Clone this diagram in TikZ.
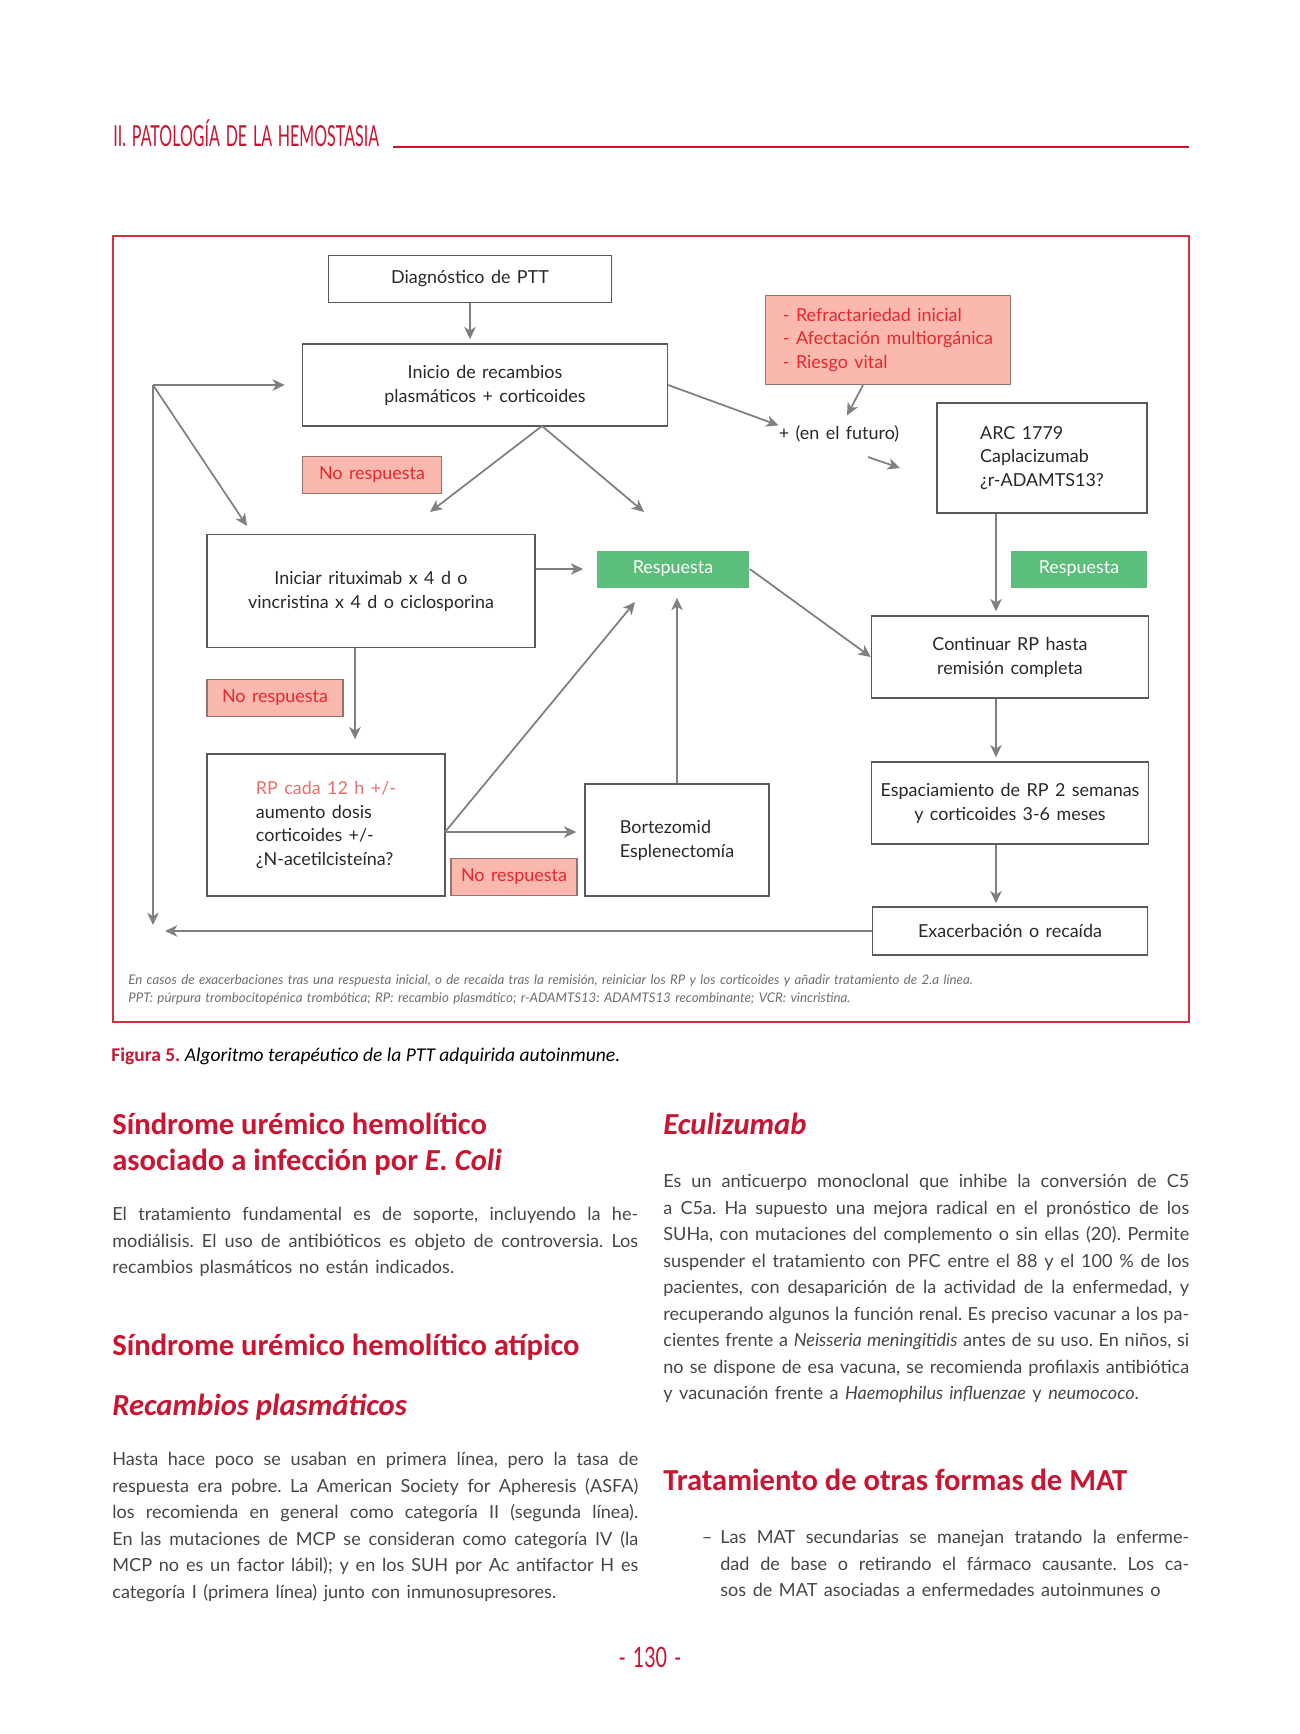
\documentclass[tikz,border=0pt]{standalone}
\usepackage{fontspec}
\setmainfont{Lato}[WordSpace=1.4]
\newfontfamily\headfont{Carlito}
\usepackage{graphicx}
\frenchspacing
\definecolor{ptcrimson}{RGB}{200,22,50}
\definecolor{ptframe}{RGB}{214,48,64}
\definecolor{ptpink}{RGB}{251,184,174}
\definecolor{ptpinkline}{RGB}{150,115,110}
\definecolor{ptred}{RGB}{232,38,46}
\definecolor{ptsalmon}{RGB}{232,112,106}
\definecolor{ptgreen}{RGB}{91,190,122}
\definecolor{ptgray}{RGB}{128,128,128}
\definecolor{ptline}{RGB}{90,90,90}
\definecolor{pttext}{RGB}{40,40,40}
\definecolor{ptbody}{RGB}{70,70,70}
\definecolor{ptnote}{RGB}{110,110,110}
\usetikzlibrary{arrows.meta,positioning,calc}
\newcommand{\diagfont}{\fontsize{10.2}{13.6}\selectfont}
\newcommand{\bodyline}[1]{\makebox[10.52cm][s]{#1}}
\newcommand{\itemline}[1]{\makebox[9.38cm][s]{#1}}
\begin{document}
\begin{tikzpicture}[x=0.02cm,y=-0.02cm,
  box/.style={draw=ptline,line width=0.8pt,inner sep=0pt,font=\diagfont,align=center,text=pttext},
  nores/.style={box,fill=ptpink,draw=ptpinkline,text=ptred,minimum width=2.72cm,minimum height=0.75cm},
  resp/.style={fill=ptgreen,text=white,font=\diagfont,inner sep=0pt,minimum height=0.74cm},
  arr/.style={-{Stealth[length=7pt,width=6.5pt,inset=2pt]},line width=1pt,ptgray},
  head/.style={font=\headfont\bfseries\fontsize{17.4}{21}\selectfont,text=ptcrimson,inner sep=0pt,anchor=base west},
  bodytext/.style={font=\fontsize{10.3}{15.1}\selectfont,text=ptbody,align=left,inner sep=0pt,anchor=north west}]
  \useasboundingbox (0,0) rectangle (1300,1734);
  % Running header
  \node[anchor=base west,inner sep=0pt,text=ptcrimson] (hdr) at (113,146) {\scalebox{0.554}[1]{\fontsize{16.5}{16.5}\selectfont II. PATOLOGÍA DE LA HEMOSTASIA}};
  \draw[ptcrimson,line width=0.6pt] (393,147) -- (1189,147);
  % Figure frame
  \draw[ptframe,line width=1.2pt] (113,236) rectangle (1189,1022);
  % Boxes
  \node[box,minimum width=5.66cm,minimum height=0.94cm] (diag) at (470,279) {Diagnóstico de PTT};
  \node[box,minimum width=7.3cm,minimum height=1.64cm] (inicio) at (485,385) {Inicio de recambios\\plasmáticos + corticoides};
  \node[box,fill=ptpink,draw=ptpinkline,text=ptred,align=left,minimum width=4.9cm,minimum height=1.78cm] (riesgo) at (888,340) {- Refractariedad inicial\\- Afectación multiorgánica\\- Riesgo vital};
  \node[font=\diagfont,text=pttext,inner sep=0pt] (plus) at (839,434) {+ (en el futuro)};
  \node[box,align=left,minimum width=4.2cm,minimum height=2.2cm] (arc) at (1042,458) {ARC 1779\\Caplacizumab\\¿r-ADAMTS13?};
  \node[nores,minimum width=2.78cm] (nores1) at (372,475) {No respuesta};
  \node[box,minimum width=6.56cm,minimum height=2.26cm] (iniciar) at (371,591) {Iniciar rituximab x 4 d o\\vincristina x 4 d o ciclosporina};
  \node[resp,minimum width=3.06cm] (resp1) at (673,569) {Respuesta};
  \node[resp,minimum width=2.72cm] (resp2) at (1079,569) {Respuesta};
  \node[box,minimum width=5.54cm,minimum height=1.64cm] (continuar) at (1010,657) {Continuar RP hasta\\remisión completa};
  \node[nores] (nores2) at (275,698) {No respuesta};
  \node[box,align=left,minimum width=4.76cm,minimum height=2.84cm] (rp) at (326,825) {\textcolor{ptsalmon}{RP cada 12 h +/-}\\aumento dosis\\corticoides +/-\\¿N-acetilcisteína?};
  \node[box,align=left,minimum width=3.68cm,minimum height=2.24cm] (bort) at (677,840) {Bortezomid\\Esplenectomía};
  \node[nores,minimum width=2.52cm] (nores3) at (514,877) {No respuesta};
  \node[box,minimum width=5.54cm,minimum height=1.64cm] (espac) at (1010,803) {Espaciamiento de RP 2 semanas\\y corticoides 3-6 meses};
  \node[box,minimum width=5.5cm,minimum height=0.96cm] (exac) at (1010,931) {Exacerbación o recaída};
  % Free ends of connectors
  \coordinate (loopTop) at (153,385);
  \coordinate (loopBot) at (153,925);
  \coordinate (diagEnd) at (247,526);
  \coordinate (backEnd) at (165,931);
  \coordinate (split) at (542,426);
  \coordinate (toIni) at (430,512);
  \coordinate (toResp) at (644,512);
  \coordinate (futA) at (868,457);
  \coordinate (futB) at (900,468);
  \coordinate (col) at (996,0);
  \coordinate (rpcol) at (355,0);
  \coordinate (rpOut) at (445,832);
  \coordinate (respIn) at (635,602);
  % Connectors
  \draw[arr,shorten >=0.08cm] (diag.south) -- (diag.south |- inicio.north);
  \draw[arr] (inicio.east) -- (plus.north west);
  \draw[arr] ($(riesgo.south)+(-25,0)$) -- ($(plus.north)+(8,-10)$);
  \draw[arr] (futA) -- (futB);
  \draw[arr] (split) -- (toIni);
  \draw[arr] (split) -- (toResp);
  \draw[arr,shorten >=0.34cm] (loopTop) -- (inicio.west);
  \draw[arr] (loopTop) -- (diagEnd);
  \draw[arr] (loopTop) -- (loopBot);
  \draw[arr] (exac.west) -- (backEnd);
  \draw[arr,shorten >=0.26cm] (resp1.west -| iniciar.east) -- (resp1.west);
  \draw[arr] (resp1.east) -- (continuar.west);
  \draw[arr,shorten >=0.08cm] (arc.south -| col) -- (continuar.north -| col);
  \draw[arr,shorten >=0.08cm] (continuar.south -| col) -- (espac.north -| col);
  \draw[arr,shorten >=0.06cm] (espac.south -| col) -- (exac.north -| col);
  \draw[arr,shorten >=0.28cm] (iniciar.south -| rpcol) -- (rp.north -| rpcol);
  \draw[arr,shorten >=0.16cm] (rpOut) -- (rpOut -| bort.west);
  \draw[arr] (rpOut) -- (respIn);
  \draw[arr,shorten >=0.2cm] (bort.north) -- (bort.north |- resp1.south);
  % Notes under the chart
  \node[anchor=north west,inner sep=0pt,align=left,text=ptnote,font=\itshape\fontsize{7.56}{10.4}\selectfont] (nota) at (128,974) {En casos de exacerbaciones tras una respuesta inicial, o de recaída tras la remisión, reiniciar los RP y los corticoides y añadir tratamiento de 2.a línea.\\PPT: púrpura trombocitopénica trombótica; RP: recambio plasmático; r-ADAMTS13: ADAMTS13 recombinante; VCR: vincristina.};
  \node[anchor=base west,inner sep=0pt,font=\headfont\fontsize{11.1}{13}\selectfont] (caption) at (111,1061) {\textcolor{ptcrimson}{\bfseries Figura 5.} \itshape Algoritmo terapéutico de la PTT adquirida autoinmune.};
  % Left column
  \node[head] (h1a) at (112,1134) {Síndrome urémico hemolítico};
  \node[head] (h1b) at (112,1170) {asociado a infección por \itshape E. Coli};
  \node[bodytext] (parA) at (112,1207) {\bodyline{El tratamiento fundamental es de soporte, incluyendo la he-}\\\bodyline{modiálisis. El uso de antibióticos es objeto de controversia. Los}\\recambios plasmáticos no están indicados.};
  \node[head] (h2) at (112,1355) {Síndrome urémico hemolítico atípico};
  \node[head,font=\headfont\bfseries\itshape\fontsize{17.4}{21}\selectfont] (h3) at (112,1415) {Recambios plasmáticos};
  \node[bodytext] (parB) at (112,1452) {\bodyline{Hasta hace poco se usaban en primera línea, pero la tasa de}\\\bodyline{respuesta era pobre. La American Society for Apheresis (ASFA)}\\\bodyline{los recomienda en general como categoría II (segunda línea).}\\\bodyline{En las mutaciones de MCP se consideran como categoría IV (la}\\\bodyline{MCP no es un factor lábil); y en los SUH por Ac antifactor H es}\\categoría I (primera línea) junto con inmunosupresores.};
  % Right column
  \node[head,font=\headfont\bfseries\itshape\fontsize{17.4}{21}\selectfont] (h4) at (663,1134) {Eculizumab};
  \node[bodytext] (parC) at (663,1174) {\bodyline{Es un anticuerpo monoclonal que inhibe la conversión de C5}\\\bodyline{a C5a. Ha supuesto una mejora radical en el pronóstico de los}\\\bodyline{SUHa, con mutaciones del complemento o sin ellas (20). Permite}\\\bodyline{suspender el tratamiento con PFC entre el 88 y el 100 \% de los}\\\bodyline{pacientes, con desaparición de la actividad de la enfermedad, y}\\\bodyline{recuperando algunos la función renal. Es preciso vacunar a los pa-}\\\bodyline{cientes frente a \textit{Neisseria meningitidis} antes de su uso. En niños, si}\\\bodyline{no se dispone de esa vacuna, se recomienda profilaxis antibiótica}\\y vacunación frente a \textit{Haemophilus influenzae} y \textit{neumococo}.};
  \node[head] (h5) at (663,1490) {Tratamiento de otras formas de MAT};
  \node[bodytext] (parD) at (720,1530) {\llap{–\hspace{0.16cm}}\itemline{Las MAT secundarias se manejan tratando la enferme-}\\\itemline{dad de base o retirando el fármaco causante. Los ca-}\\sos de MAT asociadas a enfermedades autoinmunes o};
  % Page number
  \node[anchor=base,inner sep=0pt,text=ptcrimson] (pagina) at (650,1667) {\scalebox{0.7}[1]{\fontsize{16}{16}\selectfont - 130 -}};
\end{tikzpicture}
\end{document}
